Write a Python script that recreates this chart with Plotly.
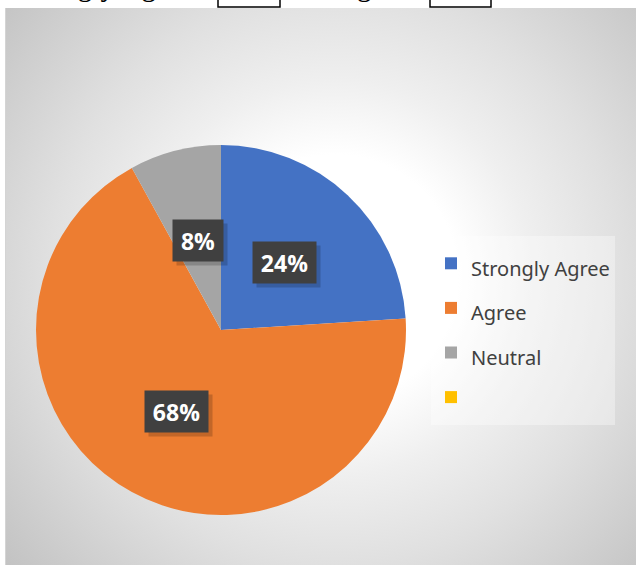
import base64
import math
import plotly.graph_objects as go

# ---- data ----
labels = ["Strongly Agree", "Agree", "Neutral", " "]
values = [24, 68, 8, 0]
colors = ["#4472C4", "#ED7D31", "#A5A5A5", "#FFC000"]
pct_text = ["24%", "68%", "8%", ""]

W, H = 636, 565

# frame geometry (pixels)
FX0, FY0 = 5, 8
FW, FH = W - FX0, H - FY0

# radial gradient background as an svg image
svg = f'''<svg xmlns="http://www.w3.org/2000/svg" width="{FW}" height="{FH}" viewBox="0 0 {FW} {FH}" preserveAspectRatio="none">
<defs><radialGradient id="g" gradientUnits="userSpaceOnUse" cx="330" cy="270" r="440">
<stop offset="0" stop-color="#ffffff"/>
<stop offset="0.28" stop-color="#ffffff"/>
<stop offset="0.45" stop-color="#efefef"/>
<stop offset="0.65" stop-color="#e0e0e0"/>
<stop offset="1" stop-color="#c2c2c2"/>
</radialGradient></defs>
<rect x="0" y="0" width="{FW}" height="{FH}" fill="url(#g)"/>
<line x1="0.5" y1="0" x2="0.5" y2="{FH}" stroke="#d4d4d4" stroke-width="1"/>
</svg>'''
src = "data:image/svg+xml;base64," + base64.b64encode(svg.encode()).decode()

def px(x):
    return x / W

def py(y):
    return 1 - y / H

# pie geometry
CX, CY, R = 221, 330, 185

legend_labels = [f'<span style="font-size:20px">{l}</span>' for l in labels]

fig = go.Figure()
fig.add_trace(go.Pie(
    labels=legend_labels,
    values=values,
    sort=False,
    direction="clockwise",
    rotation=0,
    marker=dict(colors=colors, line=dict(width=0)),
    textinfo="none",
    hoverinfo="label+percent",
    domain=dict(x=[px(CX - R), px(CX + R)], y=[py(CY + R), py(CY - R)]),
    showlegend=True,
))

# data labels positioned along slice mid-angles (derived from values)
total = sum(values)
annotations = []
cum = 0
for v, t in zip(values, pct_text):
    mid = (cum + v / 2) / total * 2 * math.pi
    cum += v
    if v <= 0:
        continue
    d = 0.5 * R
    lx = CX + d * math.sin(mid)
    ly = CY - d * math.cos(mid)
    bw = 63 if len(t) > 2 else 50
    # shadow
    annotations.append(dict(
        x=px(lx + 4), y=py(ly + 4), xref="paper", yref="paper",
        xanchor="center", yanchor="middle",
        text="", showarrow=False, width=bw, height=41,
        bgcolor="rgba(0,0,0,0.18)", borderpad=0,
    ))
    annotations.append(dict(
        x=px(lx), y=py(ly), xref="paper", yref="paper",
        xanchor="center", yanchor="middle",
        text=f"<b>{t}</b>", showarrow=False, width=bw, height=41,
        bgcolor="#404040", borderpad=0,
        font=dict(family="Open Sans", size=23, color="white"),
    ))

# cut-off document text at the very top
annotations.append(dict(
    x=px(13), y=py(-14), xref="paper", yref="paper", xanchor="left", yanchor="middle",
    text="Strongly Agree", showarrow=False,
    font=dict(family="Liberation Serif", size=29, color="black"),
))
annotations.append(dict(
    x=px(334), y=py(-14), xref="paper", yref="paper", xanchor="left", yanchor="middle",
    text="Agree", showarrow=False,
    font=dict(family="Liberation Serif", size=29, color="black"),
))

shapes = [
    dict(type="rect", xref="paper", yref="paper", x0=px(218), x1=px(280), y0=py(7), y1=py(-30),
         line=dict(color="black", width=1.5), fillcolor="rgba(0,0,0,0)"),
    dict(type="rect", xref="paper", yref="paper", x0=px(430), x1=px(491), y0=py(7), y1=py(-30),
         line=dict(color="black", width=1.5), fillcolor="rgba(0,0,0,0)"),
]

fig.update_layout(
    width=W, height=H,
    margin=dict(l=0, r=0, t=0, b=0),
    paper_bgcolor="white",
    plot_bgcolor="rgba(0,0,0,0)",
    images=[dict(source=src, xref="paper", yref="paper", x=px(FX0), y=py(FY0),
                 sizex=FW / W, sizey=FH / H, sizing="stretch",
                 xanchor="left", yanchor="top", layer="below")],
    legend=dict(
        x=px(431), y=py(236), xanchor="left", yanchor="top",
        bgcolor="rgba(255,255,255,0.35)",
        font=dict(family="Noto Sans", size=32, color="#404040"),
        traceorder="normal",
    ),
    annotations=annotations,
    shapes=shapes,
)

fig.write_html("out.html", config={"displayModeBar": False},
               post_script="document.body.style.margin='0';document.body.style.overflow='hidden';")
